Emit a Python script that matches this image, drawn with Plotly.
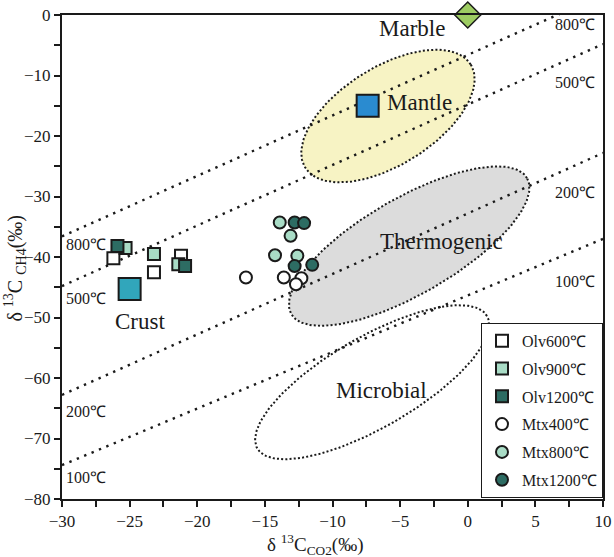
import numpy as np
import plotly.graph_objects as go

# ---- sample measurements (δ13C CO2, δ13C CH4) ----
olv600_x = [-26.2, -23.2, -21.2]
olv600_y = [-40.2, -42.5, -39.8]
olv900_x = [-25.3, -23.2, -21.4]
olv900_y = [-38.5, -39.5, -41.2]
olv1200_x = [-25.9, -20.9]
olv1200_y = [-38.2, -41.5]
mtx400_x = [-16.4, -13.6, -12.3, -12.7]
mtx400_y = [-43.4, -43.4, -43.5, -44.5]
mtx800_x = [-13.9, -13.1, -14.25, -12.6]
mtx800_y = [-34.3, -36.5, -39.7, -39.8]
mtx1200_x = [-12.8, -12.1, -12.8, -11.5]
mtx1200_y = [-34.3, -34.4, -41.5, -41.3]

# ---- reference end-members ----
crust_x, crust_y = [-25.0], [-45.3]
mantle_x, mantle_y = [-7.4], [-15.0]
marble_x, marble_y = [0.0], [0.0]

# ---- isotherms: δ13C_CH4 = slope * δ13C_CO2 + intercept ----
iso_labels = ["800℃", "500℃", "200℃", "100℃"]
iso_slope = [1.0, 1.0, 1.0, 0.935]
iso_intercept = [-6.6, -14.8, -32.8, -46.35]

# ---- source fields: centre, semi-axes (x units), tilt (deg) ----
field_names = ["Mantle", "Thermogenic", "Microbial"]
field_cx = [-5.9, -4.33, -7.07]
field_cy = [-16.7, -38.2, -60.7]
field_a = [7.21, 10.06, 9.8]
field_b = [3.62, 3.55, 3.35]
field_tilt = [32, 30, 30]
field_fill = ["#f7f3c4", "#dcdcdc", "rgba(255,255,255,0)"]

X_RANGE = [-30, 10]
Y_RANGE = [-80, 0]
W, H = 614, 557
M = dict(l=62, r=11, t=15, b=58)
# screen aspect between one x unit and one y unit
px_x = (W - M["l"] - M["r"]) / (X_RANGE[1] - X_RANGE[0])
px_y = (H - M["t"] - M["b"]) / (Y_RANGE[1] - Y_RANGE[0])
ASPECT = px_x / px_y

SERIF = "Liberation Serif, Times New Roman, serif"
INK = "#1a1a1a"
LIGHT = "#a9dcc6"
DARK = "#2d6c63"

fig = go.Figure()


def ellipse(cx, cy, a, b, deg, n=200):
    t = np.linspace(0, 2 * np.pi, n)
    th = np.deg2rad(deg)
    dx = a * np.cos(t) * np.cos(th) - b * np.sin(t) * np.sin(th)
    dy = a * np.cos(t) * np.sin(th) + b * np.sin(t) * np.cos(th)
    return cx + dx, cy + dy * ASPECT


# source fields
for cx, cy, a, b, tilt, fc in zip(field_cx, field_cy, field_a, field_b, field_tilt, field_fill):
    ex, ey = ellipse(cx, cy, a, b, tilt)
    fig.add_trace(go.Scatter(
        x=ex, y=ey, mode="lines", fill="toself", fillcolor=fc,
        line=dict(color=INK, width=2, dash="2px,2.2px"),
        showlegend=False, hoverinfo="skip"))

# isotherm lines
xs = np.array(X_RANGE, dtype=float)
for s, c in zip(iso_slope, iso_intercept):
    fig.add_trace(go.Scatter(
        x=xs, y=s * xs + c, mode="lines",
        line=dict(color=INK, width=2.4, dash="2.4px,5.6px"),
        showlegend=False, hoverinfo="skip"))

# end-member markers
fig.add_trace(go.Scatter(x=crust_x, y=crust_y, mode="markers", showlegend=False,
                         marker=dict(symbol="square", size=22, color="#31a6bb",
                                     line=dict(color=INK, width=2))))
fig.add_trace(go.Scatter(x=mantle_x, y=mantle_y, mode="markers", showlegend=False,
                         marker=dict(symbol="square", size=22, color="#2a8bd0",
                                     line=dict(color=INK, width=2))))
fig.add_trace(go.Scatter(x=marble_x, y=marble_y, mode="markers", showlegend=False,
                         cliponaxis=False,
                         marker=dict(symbol="diamond", size=20, color="#9dcc62",
                                     line=dict(color=INK, width=1.5))))

# sample series
series = [
    ("Olv600℃", olv600_x, olv600_y, "square", "white"),
    ("Olv900℃", olv900_x, olv900_y, "square", LIGHT),
    ("Olv1200℃", olv1200_x, olv1200_y, "square", DARK),
    ("Mtx400℃", mtx400_x, mtx400_y, "circle", "white"),
    ("Mtx800℃", mtx800_x, mtx800_y, "circle", LIGHT),
    ("Mtx1200℃", mtx1200_x, mtx1200_y, "circle", DARK),
]
for name, sx, sy, sym, col in series:
    fig.add_trace(go.Scatter(
        x=sx, y=sy, mode="markers", name=name, legendgroup=name,
        marker=dict(symbol=sym, size=12, color=col, line=dict(color=INK, width=2))))


# text labels
def label(x, y, text, size=23):
    fig.add_annotation(x=x, y=y, text=text, showarrow=False,
                       font=dict(family=SERIF, size=size, color=INK))


label(-4.11, -2.15, "Marble")
label(-3.55, -14.5, "Mantle")
label(-1.97, -37.4, "Thermogenic")
label(-6.4, -62.0, "Microbial")
label(-24.23, -50.7, "Crust")

right_y = [-1.65, -11.1, -29.3, -44.1]
left_y = [-37.9, -46.8, -65.6, -76.5]
for t, ry, ly in zip(iso_labels, right_y, left_y):
    label(7.94, ry, t, size=16)
    label(-28.2, ly, t, size=16)

# axis titles
fig.add_annotation(xref="paper", yref="paper", x=0.468, y=-0.095,
                   xanchor="center", yanchor="middle",
                   text="δ <sup>13</sup>C<sub>CO2</sub>(‰)", showarrow=False,
                   font=dict(family=SERIF, size=19, color=INK))
fig.add_annotation(xref="paper", yref="paper", x=-0.087, y=0.478, textangle=-90,
                   xanchor="center", yanchor="middle",
                   text="δ <sup>13</sup>C <sub>CH4</sub>(‰)", showarrow=False,
                   font=dict(family=SERIF, size=20, color=INK))

axis_common = dict(
    showline=True, linewidth=2, linecolor=INK, mirror=True,
    showgrid=False, zeroline=False, automargin=False,
    ticks="outside", ticklen=6, tickwidth=2, tickcolor=INK,
    tickfont=dict(family=SERIF, size=17, color=INK),
)

fig.update_layout(
    width=W, height=H, margin=M,
    paper_bgcolor="white", plot_bgcolor="white",
    xaxis=dict(range=X_RANGE, tick0=-30, dtick=5,
               minor=dict(dtick=2.5, ticks="outside", ticklen=6, tickwidth=2, tickcolor=INK),
               **axis_common),
    yaxis=dict(range=Y_RANGE, tick0=-80, dtick=10,
               minor=dict(dtick=5, ticks="outside", ticklen=6, tickwidth=2, tickcolor=INK),
               **axis_common),
    legend=dict(x=1.0, y=0.364, xanchor="right", yanchor="top",
                bgcolor="white", bordercolor=INK, borderwidth=1,
                traceorder="grouped", tracegroupgap=4, itemwidth=30,
                font=dict(family=SERIF, size=16, color=INK)),
    showlegend=True,
)

fig.write_html("out.html")
